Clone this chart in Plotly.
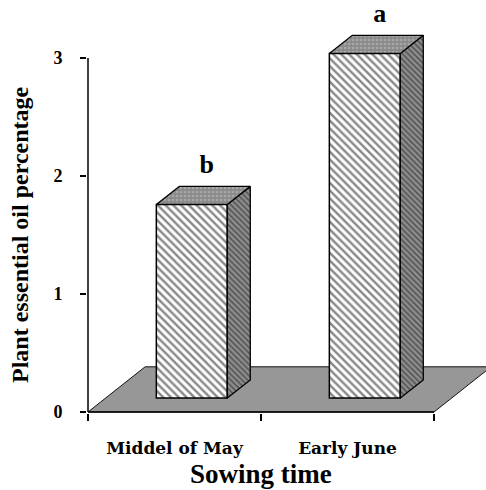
import plotly.graph_objects as go

# ---------------- data ----------------
categories = ["Middel of May", "Early June"]
oil_percentage = [1.64, 2.92]
letters = ["b", "a"]
y_ticks = [0, 1, 2, 3]
x_title = "Sowing time"
y_title = "Plant essential oil percentage"

# ---------------- pseudo-3D geometry (axis units) ----------------
FLOOR_DX, FLOOR_DY = 0.33, 0.383        # depth of the floor
BAR_SHIFT_X, BAR_SHIFT_Y = 0.10, 0.119  # bars stand inside the floor
BAR_DX, BAR_DY = 0.133, 0.153           # bar depth
BAR_W = 0.41
LETTER_PAD = 0.06

W, H = 486, 490
PX_X, PX_Y = 173.0, 118.0
ML, MB, MT = 87, 77, 10
x0 = -0.5 - 1.0 / PX_X
x1 = x0 + (W - ML) / PX_X
y0 = -1.0 / PX_Y
y1 = y0 + (H - MB - MT) / PX_Y

FONT = "Liberation Serif"
FONT_CAT = "DejaVu Serif"

x_pos = list(range(len(categories)))
xc = [p + BAR_SHIFT_X for p in x_pos]
n = len(categories)

fig = go.Figure()

# front faces
fig.add_trace(go.Bar(
    x=xc, y=oil_percentage, base=BAR_SHIFT_Y, width=BAR_W,
    marker=dict(color="white",
                line=dict(color="black", width=1.5),
                pattern=dict(shape="\\", fgcolor="#141414", bgcolor="white",
                             size=5.5, solidity=0.45)),
    hoverinfo="skip", showlegend=False,
))

# side and top faces
for c, v in zip(xc, oil_percentage):
    xl, xr = c - BAR_W / 2, c + BAR_W / 2
    b, t = BAR_SHIFT_Y, BAR_SHIFT_Y + v
    fig.add_trace(go.Scatter(
        x=[xr, xr + BAR_DX, xr + BAR_DX, xr, xr],
        y=[b, b + BAR_DY, t + BAR_DY, t, b],
        mode="lines", fill="toself", fillcolor="#8c8c8c",
        fillpattern=dict(shape="\\", fgcolor="#1a1a1a", bgcolor="#8e8e8e",
                         size=4, solidity=0.4),
        line=dict(color="black", width=1.3),
        hoverinfo="skip", showlegend=False,
    ))
    fig.add_trace(go.Scatter(
        x=[xl, xl + BAR_DX, xr + BAR_DX, xr, xl],
        y=[t, t + BAR_DY, t + BAR_DY, t, t],
        mode="lines", fill="toself", fillcolor="#8e8e8e",
        fillpattern=dict(shape=".", fgcolor="#c4c4c4", bgcolor="#8a8a8a",
                         size=4, solidity=0.35),
        line=dict(color="black", width=1.3),
        hoverinfo="skip", showlegend=False,
    ))

# significance letters
fig.add_trace(go.Scatter(
    x=[c + BAR_DX / 2 + 0.02 for c in xc],
    y=[BAR_SHIFT_Y + v + BAR_DY + LETTER_PAD for v in oil_percentage],
    mode="text", text=letters, textposition="top center",
    textfont=dict(family=FONT, size=26, color="black", weight="bold"),
    cliponaxis=False, hoverinfo="skip", showlegend=False,
))

shapes = [
    # floor
    dict(type="path", xref="x", yref="y", layer="below",
         path=(f"M {-0.5},0 L {n - 0.5},0 L {n - 0.5 + FLOOR_DX},{FLOOR_DY} "
               f"L {-0.5 + FLOOR_DX},{FLOOR_DY} Z"),
         fillcolor="#979797", line=dict(color="#111111", width=1)),
    # value axis line
    dict(type="line", xref="x", yref="y", x0=-0.5, x1=-0.5, y0=0, y1=y_ticks[-1],
         line=dict(color="black", width=1.5)),
    # category axis line
    dict(type="line", xref="x", yref="y", x0=-0.5, x1=n - 0.5, y0=0, y1=0,
         line=dict(color="black", width=1.5)),
]

annotations = [
    dict(text=y_title, textangle=-90, showarrow=False,
         xref="paper", x=0, xanchor="center", xshift=-67,
         yref="y", y=(y_ticks[0] + y_ticks[-1]) / 2, yanchor="middle",
         font=dict(family=FONT, size=24, color="black", weight="bold")),
    dict(text=x_title, showarrow=False,
         xref="x", x=(n - 1) / 2, xanchor="center",
         yref="paper", y=0, yanchor="top", yshift=-44,
         font=dict(family=FONT, size=27, color="black", weight="bold")),
]

fig.update_layout(
    width=W, height=H,
    margin=dict(l=ML, r=0, t=MT, b=MB),
    paper_bgcolor="white", plot_bgcolor="white",
    shapes=shapes, annotations=annotations,
    font=dict(family=FONT, color="black"),
    hovermode=False,
    xaxis=dict(
        range=[x0, x1], showgrid=False, zeroline=False, showline=False,
        tickmode="array", tickvals=x_pos, ticktext=categories, ticks="",
        tickfont=dict(family=FONT_CAT, size=17, color="black", weight="bold"),
        ticklabelstandoff=23,
        minor=dict(tickmode="array", tickvals=[p - 0.5 for p in range(n + 1)],
                   ticks="outside", ticklen=7, tickwidth=1.5, tickcolor="black"),
    ),
    yaxis=dict(
        range=[y0, y1], showgrid=False, zeroline=False, showline=False,
        tickmode="array", tickvals=y_ticks, ticks="outside", ticklen=6,
        tickwidth=1.5, tickcolor="black",
        tickfont=dict(family=FONT, size=18, color="black", weight="bold"),
        ticklabelstandoff=14,
    ),
)

# remove the default 8px page margin so the figure fills the window
fig.write_html("out.html", config={"displayModeBar": False},
               post_script="document.body.style.margin='0px';")
